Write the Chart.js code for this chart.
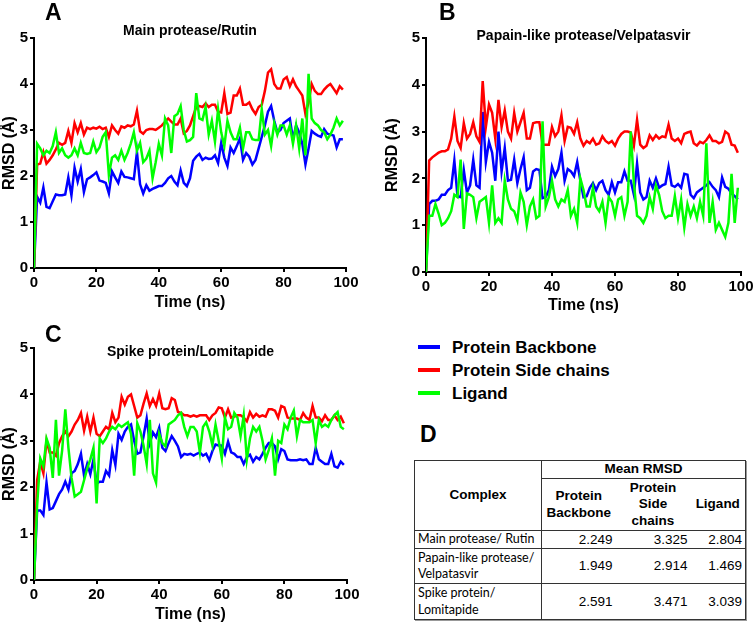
<!DOCTYPE html>
<html>
<head>
<meta charset="utf-8">
<script src="https://cdn.jsdelivr.net/npm/chart.js"></script>
<style>
  body { margin: 0; background: #fff; }
  #fig { position: relative; width: 756px; height: 624px; overflow: hidden; background: #fff;
         font-family: "Liberation Sans", Arial, sans-serif; color: #000; }
  canvas { position: absolute; }
  .letter { position: absolute; font-weight: bold; font-size: 23px; line-height: 23px; }
  .legRow { position: absolute; left: 418px; height: 23px; line-height: 23px; font-weight: bold; font-size: 17px; white-space: nowrap; }
  .legRow span { display: inline-block; width: 22px; height: 4px; vertical-align: middle; margin-right: 12px; position: relative; top: -1px; }
  #meanTable { position: absolute; left: 414px; top: 460px; border-collapse: collapse; table-layout: fixed;
               box-shadow: 1px 1px 0 #999; }
  #meanTable th, #meanTable td { border: 1px solid #333; padding: 0; vertical-align: middle; white-space: nowrap; }
  #meanTable th { font-weight: bold; font-size: 13.5px; line-height: 16.5px; text-align: center; }
  #meanTable td.name { font-family: Lato, "Open Sans", sans-serif; font-size: 12.5px; line-height: 16.5px; padding-left: 3px; }
  #meanTable td.num { font-size: 13.5px; line-height: 16px; text-align: right; padding-right: 3px; }
  #meanTable .d1 { border-right: none; }
  #meanTable .d2 { border-left: none; border-right: none; }
  #meanTable .d3 { border-left: none; }
</style>
</head>
<body>
<div id="fig">
  <canvas id="chartA" width="378" height="312" style="left:0px;top:0px"></canvas>
  <canvas id="chartB" width="373" height="315" style="left:383px;top:0px"></canvas>
  <canvas id="chartC" width="378" height="314" style="left:0px;top:310px"></canvas>
  <div class="letter" style="left:45px;top:1px">A</div>
  <div class="letter" style="left:439px;top:1px">B</div>
  <div class="letter" style="left:45px;top:323px">C</div>
  <div class="letter" style="left:420px;top:423px">D</div>
  <div id="legend"></div>
  <table id="meanTable"></table>
</div>
<script>
const timeNs = [0,1,2,3,4,5,6,7,8,9,10,11,12,13,14,15,16,17,18,19,
  20,21,22,23,24,25,26,27,28,29,30,31,32,33,34,35,36,37,38,39,
  40,41,42,43,44,45,46,47,48,49,50,51,52,53,54,55,56,57,58,59,
  60,61,62,63,64,65,66,67,68,69,70,71,72,73,74,75,76,77,78,79,
  80,81,82,83,84,85,86,87,88,89,90,91,92,93,94,95,96,97,98,99];

const seriesNames = ['Protein Backbone', 'Protein Side chains', 'Ligand'];
const seriesColors = ['#0000ff', '#ff0000', '#00ff00'];
const panelTitles = ['Main protease/Rutin', 'Papain-like protease/Velpatasvir', 'Spike protein/Lomitapide'];

// A - Main protease/Rutin
const backboneA = [0,1.55,1.42,1.75,1.33,1.3,1.45,1.6,1.58,1.58, 1.6,1.97,1.58,2.18,1.88,2.15,1.65,1.93,1.97,2.02,
  2.08,1.9,1.88,1.85,1.62,2.1,1.97,1.85,2.1,1.98, 1.97,1.95,1.93,2.52,1.82,1.62,1.8,1.68,1.72,1.75,
  1.78,1.78,1.85,1.95,2.0,1.88,1.8,2.12,1.85,1.78, 1.95,2.33,2.42,2.48,2.35,2.4,2.37,2.38,2.45,2.28,
  2.72,2.4,2.22,2.62,2.5,2.65,2.82,2.35,2.5,2.42, 2.25,2.35,2.6,2.85,3.1,3.4,3.52,3.2,2.95,3.0,
  3.15,3.2,3.25,2.8,3.1,2.95,2.7,2.25,2.6,2.98, 2.92,2.88,2.85,3.02,2.92,2.9,2.88,2.62,2.8,2.8];
const sideChainsA = [0,2.25,2.27,2.52,2.27,2.35,2.45,2.58,2.72,2.68, 2.72,2.98,2.72,3.15,2.95,3.15,2.9,3.05,3.02,3.05,
  3.03,3.07,3.02,3.05,2.85,3.1,3.0,2.92,3.08,3.05, 3.1,3.08,3.12,3.42,2.97,2.92,3.0,3.02,3.02,3.0,
  3.05,3.1,3.18,3.25,3.18,3.12,3.12,3.25,2.93,2.98, 3.1,3.3,3.5,3.52,3.5,3.58,3.5,3.55,3.55,3.4,
  3.38,3.8,3.35,3.38,3.75,3.75,3.9,3.55,3.55,3.6, 3.45,3.35,3.5,3.55,3.85,4.25,4.32,4.0,3.9,3.9,
  4.1,4.15,3.95,4.1,3.95,3.85,3.75,3.35,3.6,4.0, 3.85,3.78,3.78,3.88,3.95,4.0,3.9,3.8,3.95,3.88];
const ligandA = [0,2.7,2.6,2.45,2.55,2.5,2.65,2.95,2.5,2.6, 2.45,2.4,2.45,2.6,2.45,2.72,2.5,2.48,2.5,2.75,
  2.52,2.62,2.85,2.95,2.02,2.4,2.45,2.35,2.55,2.35, 2.5,2.7,2.95,2.55,2.72,2.3,2.38,2.55,1.95,2.3,
  2.7,2.45,3.25,3.1,2.5,3.3,3.35,3.52,3.0,2.75, 2.78,2.85,3.8,3.25,3.22,3.5,2.9,3.2,2.75,3.45,
  2.95,2.65,3.2,2.95,2.8,2.8,3.05,2.6,2.95,2.95, 2.8,2.78,2.78,3.45,2.9,3.0,2.65,3.15,2.9,3.1,
  3.1,2.9,3.1,2.7,3.1,2.6,3.25,2.45,4.22,3.25, 3.15,3.1,3.0,2.95,2.8,2.9,3.05,3.25,3.1,3.2];

// B - Papain-like protease/Velpatasvir
const backboneB = [0,1.45,1.52,1.52,1.55,1.65,1.65,1.75,1.8,2.38, 1.62,1.6,2.18,1.7,1.85,2.4,1.85,1.8,3.42,2.35,
  2.78,2.55,1.95,3.0,2.15,2.65,1.95,1.97,2.4,1.9, 2.2,2.45,1.75,1.8,2.15,2.2,2.18,1.58,1.6,1.75,
  2.25,2.05,2.2,2.55,1.95,2.2,2.15,2.05,2.35,1.95, 1.6,1.62,1.8,1.9,1.75,1.9,1.95,1.75,1.65,1.92,
  1.7,1.92,1.92,2.15,1.95,1.95,1.65,2.32,1.7,1.55, 1.6,1.95,1.8,2.0,1.8,1.85,1.88,2.25,1.85,1.82,
  1.88,1.8,2.1,2.08,1.65,1.58,1.7,1.75,1.8,1.85, 1.92,1.82,1.75,1.6,2.02,1.82,1.78,1.68,1.62,1.55];
const sideChainsB = [0,2.38,2.45,2.5,2.55,2.58,2.58,2.62,2.85,3.32, 2.8,2.65,3.18,2.85,2.95,3.2,2.9,2.78,4.08,3.1,
  3.58,3.4,2.85,3.68,3.1,3.45,3.0,2.85,3.4,3.0, 3.2,3.4,2.85,2.85,3.18,3.2,3.2,2.72,2.72,2.72,
  3.1,2.9,3.0,3.35,2.8,3.1,3.08,2.95,3.2,2.85, 2.7,2.8,2.75,2.85,2.72,2.75,2.9,2.8,2.75,2.8,
  2.7,2.85,2.95,3.0,3.0,2.98,2.7,3.25,2.72,2.65, 2.7,2.92,2.82,2.92,2.85,2.9,2.88,3.15,2.85,2.8,
  2.85,2.75,2.95,2.98,3.0,2.75,2.7,2.78,2.75,2.82, 2.92,2.8,2.8,2.75,2.78,3.0,2.95,2.72,2.7,2.55];
const ligandB = [0,1.2,1.2,1.45,1.25,1.0,1.05,1.15,1.3,1.65, 1.6,2.4,0.92,1.68,1.65,1.6,1.15,1.5,1.55,1.6,
  1.05,1.85,1.05,1.15,1.05,1.95,1.55,1.35,1.3,1.1, 1.7,1.5,1.0,1.4,1.55,1.15,1.2,3.22,1.4,1.6,
  1.95,1.55,1.4,1.55,1.5,1.75,1.2,1.35,1.05,2.0, 1.75,1.4,1.4,1.8,1.4,1.3,1.5,1.05,1.6,1.5,
  1.2,1.55,1.6,1.2,1.5,3.0,1.9,1.2,1.15,1.05, 1.2,1.6,1.35,1.85,1.65,1.3,1.15,1.2,1.2,1.62,
  1.15,1.55,0.95,1.45,1.2,1.4,1.15,1.5,1.2,2.75, 1.05,1.5,0.9,1.05,0.9,0.75,1.05,2.1,1.05,1.8];

// C - Spike protein/Lomitapide
const backboneC = [0,1.5,1.5,1.4,2.1,1.52,1.55,1.7,1.85,1.95, 2.12,1.95,2.3,2.35,2.5,2.72,2.25,2.5,2.28,2.6,
  2.08,2.12,2.12,2.35,2.25,2.8,2.48,3.15,3.02,3.2, 3.3,3.35,3.0,2.72,2.75,3.1,3.48,2.95,3.18,3.08,
  3.28,2.85,2.78,2.95,3.1,3.0,2.88,2.65,2.72,2.7, 2.72,2.68,2.72,2.75,2.68,2.72,2.58,2.78,2.92,2.9,
  2.9,2.72,2.98,2.75,2.72,2.65,2.65,2.5,2.65,2.7, 2.55,2.65,2.6,2.72,2.85,2.95,2.95,2.88,2.6,2.82,
  2.78,2.6,2.58,2.58,2.58,2.6,2.58,2.6,2.5,2.5, 2.85,2.6,2.55,2.5,2.5,2.72,2.45,2.42,2.55,2.48];
const sideChainsC = [0,2.15,2.55,2.3,3.0,2.75,2.75,2.68,2.95,3.1, 3.2,3.1,3.2,3.35,3.45,3.6,3.22,3.52,3.2,3.5,
  3.15,3.1,3.2,3.3,3.25,3.6,3.4,3.5,3.95,3.78, 3.95,4.0,3.75,3.5,3.55,3.8,4.02,3.75,3.9,3.75,
  4.02,3.7,3.68,3.7,3.92,3.88,3.62,3.6,3.55,3.55, 3.52,3.55,3.52,3.55,3.55,3.55,3.45,3.55,3.6,3.72,
  3.7,3.5,3.68,3.5,3.52,3.55,3.55,3.5,3.42,3.62, 3.5,3.58,3.52,3.55,3.52,3.68,3.68,3.65,3.5,3.75,
  3.72,3.5,3.48,3.48,3.48,3.45,3.6,3.5,3.45,3.75, 3.5,3.5,3.42,3.55,3.45,3.45,3.55,3.45,3.52,3.38];
const ligandC = [0,1.6,2.62,2.45,3.05,2.85,2.2,3.45,2.25,2.8, 3.68,2.85,2.2,1.8,1.85,1.9,2.15,2.4,2.6,2.85,
  1.65,3.05,2.95,3.05,3.2,3.3,3.25,3.35,3.3,3.35, 3.4,3.15,2.25,3.38,3.2,2.9,2.5,3.45,2.3,2.1,
  3.15,2.95,2.88,3.35,3.4,3.45,3.55,3.6,3.3,3.1, 3.3,3.3,3.2,2.75,3.3,3.4,3.2,2.9,3.35,3.0,
  2.62,3.5,3.25,3.3,3.6,3.5,3.1,3.55,2.6,3.05, 3.3,3.2,3.3,3.0,2.6,2.8,3.05,2.25,3.0,2.95,
  3.35,3.25,3.5,3.65,3.1,3.45,3.4,3.4,3.4,3.45, 2.95,3.45,3.3,3.35,3.3,3.45,3.55,3.62,3.3,3.25];

// D - table
const complexNames = [['Main protease/ Rutin'], ['Papain-like protease/', 'Velpatasvir'], ['Spike protein/', 'Lomitapide']];
const meanBackbone = ['2.249', '1.949', '2.591'];
const meanSideChains = ['3.325', '2.914', '3.471'];
const meanLigand = ['2.804', '1.469', '3.039'];

Chart.defaults.font.family = '"Liberation Sans", Arial, sans-serif';
Chart.defaults.color = '#000';

function pairs(vals) {
  return timeNs.map(function(t, i) { return {x: t, y: vals[i]}; });
}

function axis(min, max, step, title, fitFn) {
  return {
    type: 'linear',
    min: min,
    max: max,
    ticks: { stepSize: step, font: { size: 15, weight: 'bold' }, color: '#000', padding: 2 },
    grid: { drawOnChartArea: false, drawTicks: true, tickLength: 4, color: '#000', lineWidth: 2 },
    border: { display: true, color: '#000', width: 2 },
    title: { display: true, text: title, font: { size: 16, weight: 'bold' }, color: '#000', padding: 0 },
    afterFit: fitFn
  };
}

function drawPanel(id, title, blue, red, green, box) {
  new Chart(document.getElementById(id), {
    type: 'line',
    data: {
      datasets: [
        { label: seriesNames[0], data: pairs(blue), borderColor: seriesColors[0], order: 3 },
        { label: seriesNames[1], data: pairs(red), borderColor: seriesColors[1], order: 2 },
        { label: seriesNames[2], data: pairs(green), borderColor: seriesColors[2], order: 1 }
      ]
    },
    options: {
      responsive: false,
      animation: false,
      devicePixelRatio: 1,
      layout: { padding: { left: 0, right: box.padRight, top: 0, bottom: 0 } },
      elements: {
        line: { borderWidth: 2.5, tension: 0, fill: false },
        point: { radius: 0 }
      },
      plugins: {
        legend: { display: false },
        tooltip: { enabled: false },
        title: {
          display: true,
          text: title,
          fullSize: false,
          font: { size: 14, weight: 'bold' },
          color: '#000',
          padding: box.titlePad
        }
      },
      scales: {
        x: axis(0, 100, 20, 'Time (ns)', function(s) { s.height = box.xHeight; }),
        y: axis(0, 5, 1, 'RMSD (Å)', function(s) { s.width = box.yWidth; })
      }
    }
  });
}

drawPanel('chartA', panelTitles[0], backboneA, sideChainsA, ligandA,
  { yWidth: 34, xHeight: 44, padRight: 32, titlePad: { top: 22.6, bottom: -1.4 } });
drawPanel('chartB', panelTitles[1], backboneB, sideChainsB, ligandB,
  { yWidth: 43, xHeight: 43, padRight: 15, titlePad: { top: 27.6, bottom: -6.4 } });
drawPanel('chartC', panelTitles[2], backboneC, sideChainsC, ligandC,
  { yWidth: 34, xHeight: 44, padRight: 31, titlePad: { top: 33.6, bottom: -12.4 } });

// legend
var legendHtml = '';
seriesNames.forEach(function(name, i) {
  legendHtml += '<div class="legRow" style="top:' + (335.5 + i * 23) + 'px"><span style="background:' +
    seriesColors[i] + '"></span>' + name + '</div>';
});
document.getElementById('legend').innerHTML = legendHtml;

// table D
var rowHeights = [18, 35, 36];
var html = '<colgroup><col style="width:127px"><col style="width:74px"><col style="width:75px"><col style="width:55px"></colgroup>';
html += '<tr style="height:18px"><th rowspan="2">Complex</th><th colspan="3">Mean RMSD</th></tr>';
html += '<tr style="height:52px"><th class="d1">Protein<br>Backbone</th><th class="d2">Protein<br>Side<br>chains</th><th class="d3">Ligand</th></tr>';
complexNames.forEach(function(lines, i) {
  html += '<tr style="height:' + rowHeights[i] + 'px"><td class="name">' + lines.join('<br>') + '</td>' +
    '<td class="num d1">' + meanBackbone[i] + '</td>' +
    '<td class="num d2">' + meanSideChains[i] + '</td>' +
    '<td class="num d3">' + meanLigand[i] + '</td></tr>';
});
document.getElementById('meanTable').innerHTML = html;
</script>
</body>
</html>
